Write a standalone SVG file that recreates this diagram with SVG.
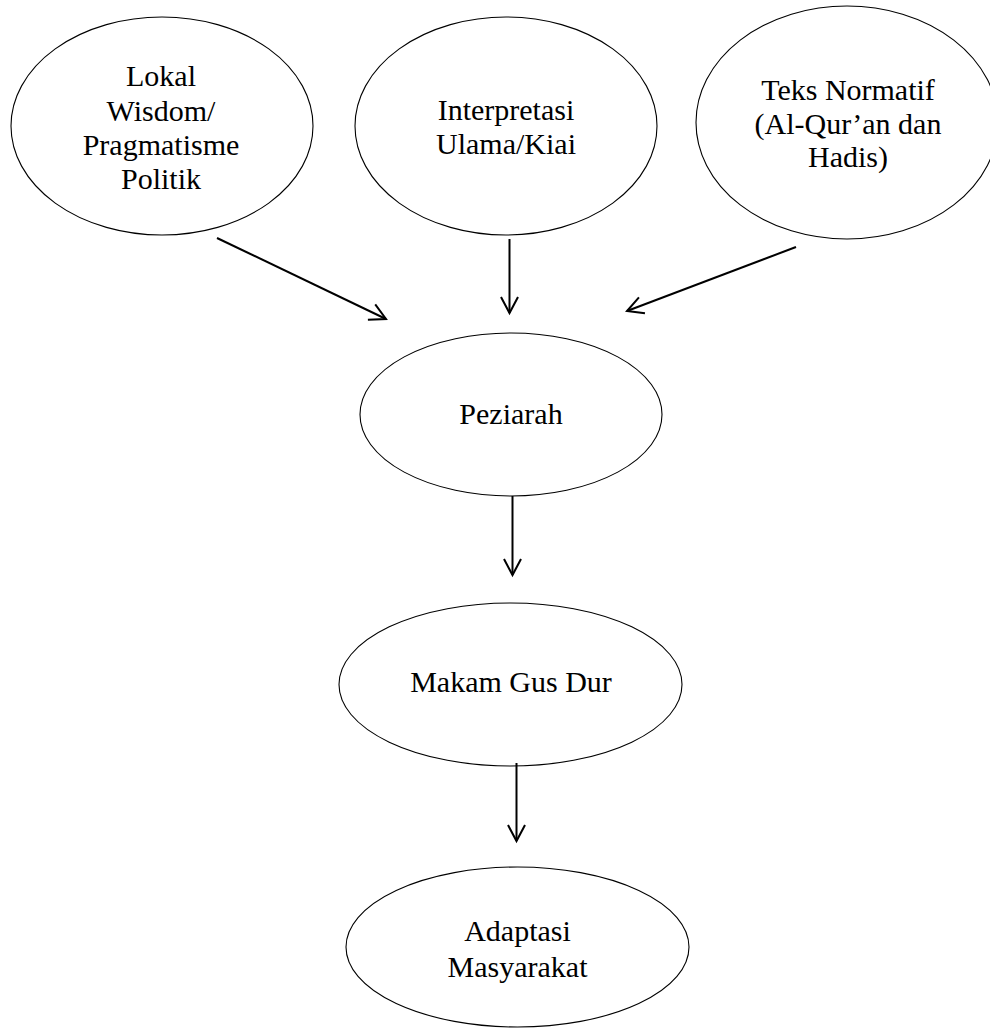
<svg xmlns="http://www.w3.org/2000/svg" width="990" height="1028" viewBox="0 0 990 1028">
<style>
.node ellipse{fill:#fff;stroke:#000;stroke-width:1.1}
.node text{font-family:"Liberation Serif","Times New Roman",serif;font-size:30px;fill:#000;text-anchor:middle}
.conn line{stroke:#000;stroke-width:2;marker-end:url(#arr)}
</style>
<defs>
<marker id="arr" markerUnits="userSpaceOnUse" markerWidth="24" markerHeight="24" viewBox="-20 -12 24 24" refX="0" refY="0" orient="auto">
<path d="M-16,-8.5 L0,0 L-16,8.5" fill="none" stroke="#000" stroke-width="2"/>
</marker>
</defs>
<rect width="990" height="1028" fill="#fff"/>
<g id="n-lokal" class="node">
<ellipse cx="162" cy="126" rx="151" ry="109"/>
<text x="161" y="86">Lokal</text>
<text x="161" y="120.5">Wisdom/</text>
<text x="161" y="155">Pragmatisme</text>
<text x="161" y="189">Politik</text>
</g>
<g id="n-interpretasi" class="node">
<ellipse cx="506" cy="126" rx="151" ry="109"/>
<text x="506" y="120">Interpretasi</text>
<text x="506" y="154">Ulama/Kiai</text>
</g>
<g id="n-teks" class="node">
<ellipse cx="847" cy="122.5" rx="151" ry="116.5"/>
<text x="848" y="99.5">Teks Normatif</text>
<text x="848" y="133.5">(Al-Qur’an dan</text>
<text x="848" y="167">Hadis)</text>
</g>
<g id="n-peziarah" class="node">
<ellipse cx="511" cy="414.5" rx="151" ry="81.5"/>
<text x="511" y="424">Peziarah</text>
</g>
<g id="n-makam" class="node">
<ellipse cx="510.5" cy="684.5" rx="171.5" ry="81.5"/>
<text x="511" y="692">Makam Gus Dur</text>
</g>
<g id="n-adaptasi" class="node">
<ellipse cx="517.5" cy="947" rx="171.5" ry="80"/>
<text x="517.5" y="941">Adaptasi</text>
<text x="517.5" y="977">Masyarakat</text>
</g>
<g id="connectors" class="conn">
<line x1="217" y1="238" x2="386" y2="319"/>
<line x1="509.5" y1="239" x2="509.5" y2="313"/>
<line x1="796" y1="247" x2="627" y2="311"/>
<line x1="512.5" y1="496" x2="512.5" y2="575"/>
<line x1="516.5" y1="763" x2="516.5" y2="841"/>
</g>
</svg>
